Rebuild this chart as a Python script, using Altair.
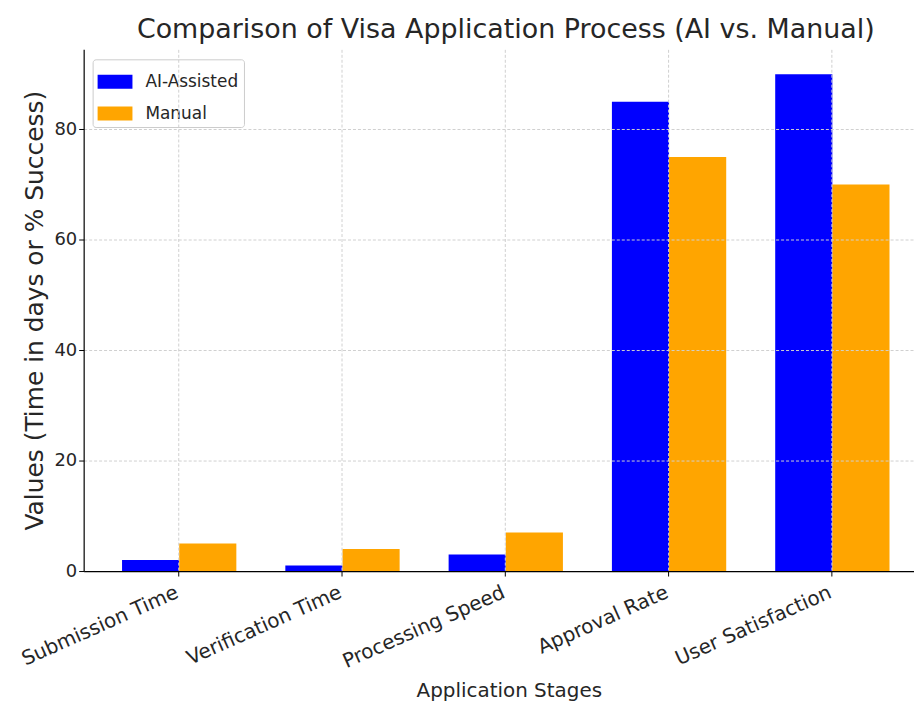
import altair as alt
import pandas as pd

stages = ["Submission Time", "Verification Time", "Processing Speed", "Approval Rate", "User Satisfaction"]
ai_assisted = [2, 1, 3, 85, 90]
manual = [5, 4, 7, 75, 70]
series = ["AI-Assisted", "Manual"]
colors = ["#0000ff", "#ffa500"]
y_ticks = [0, 20, 40, 60, 80]

rows = []
for s, a, m in zip(stages, ai_assisted, manual):
    rows.append({"Stage": s, "Method": series[0], "Value": a})
    rows.append({"Stage": s, "Method": series[1], "Value": m})
df = pd.DataFrame(rows)

FONT = "DejaVu Sans"
TXT = "#262626"

chart = alt.Chart(df).mark_bar().encode(
    x=alt.X(
        "Stage:N",
        sort=stages,
        scale=alt.Scale(paddingInner=0, paddingOuter=0.0425, align=1),
        axis=alt.Axis(
            title="Application Stages",
            titleFont=FONT, titleFontSize=20, titleFontWeight="normal", titleColor=TXT,
            titleBaseline="alphabetic", titleY=126, titleX=427,
            labelFont=FONT, labelFontSize=20, labelColor=TXT,
            labelAngle=-24, labelAlign="right", labelBaseline="top",
            labelPadding=6, labelOffset=-6,
            bandPosition=0.5, grid=True, gridColor="#d0d0d0", gridDash=[3, 2], gridWidth=1,
            domainColor="#000000", domainWidth=1.2, tickColor="#000000", tickSize=5,
            zindex=1,
        ),
    ),
    xOffset=alt.XOffset("Method:N", sort=series, scale=alt.Scale(paddingInner=0, paddingOuter=0.4286)),
    y=alt.Y(
        "Value:Q",
        scale=alt.Scale(domain=[0, 94.5], nice=False),
        axis=alt.Axis(
            values=y_ticks,
            title="Values (Time in days or % Success)",
            titleFont=FONT, titleFontSize=25, titleFontWeight="normal", titleColor=TXT,
            titlePadding=6,
            labelFont=FONT, labelFontSize=18, labelColor=TXT, labelPadding=2,
            grid=True, gridColor="#d0d0d0", gridDash=[3, 2], gridWidth=1,
            domainColor="#000000", domainWidth=1.2, tickColor="#000000", tickSize=5,
            zindex=1,
        ),
    ),
    color=alt.Color(
        "Method:N",
        sort=series,
        scale=alt.Scale(domain=series, range=colors),
        legend=alt.Legend(
            title=None, orient="none", legendX=9, legendY=10,
            labelFont=FONT, labelFontSize=17, labelColor=TXT,
            symbolType="M-1,-0.4L1,-0.4L1,0.4L-1,0.4Z", symbolSize=1225,
            symbolStrokeWidth=0, symbolOpacity=1,
            labelOffset=13, rowPadding=6, padding=5,
            strokeColor="#cccccc", fillColor="#ffffff", cornerRadius=3,
        ),
    ),
).properties(
    width=834,
    height=524,
    title=alt.TitleParams(
        "Comparison of Visa Application Process (AI vs. Manual)",
        font=FONT, fontSize=27, fontWeight="normal", color=TXT,
        anchor="middle", baseline="alphabetic", offset=11, dx=7, dy=27,
    ),
    autosize=alt.AutoSizeParams(type="none"),
    padding={"left": 76, "top": 40, "right": 0, "bottom": 131},
).configure_view(stroke=None)

chart.save("out.html", embed_options={"renderer": "svg", "actions": False})
